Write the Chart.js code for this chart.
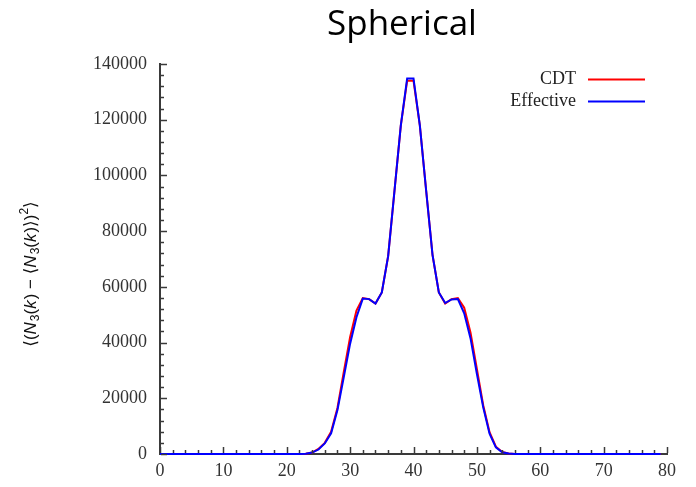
<!DOCTYPE html>
<html>
<head>
<meta charset="utf-8">
<script src="https://cdn.jsdelivr.net/npm/chart.js@4.4.1/dist/chart.umd.min.js"></script>
<style>
  html, body { margin: 0; padding: 0; background: #fff; }
</style>
</head>
<body>
<canvas id="c" width="696" height="487"></canvas>
<script>
// ============ data ============
const kValues = [
  0, 1, 2, 3, 4, 5, 6, 7, 8, 9, 10, 11, 12, 13, 14, 15, 16, 17, 18, 19,
  20, 21, 22, 23, 24, 25, 26, 27, 28, 29, 30, 31, 32, 33, 34, 35, 36, 37, 38, 39,
  40, 41, 42, 43, 44, 45, 46, 47, 48, 49, 50, 51, 52, 53, 54, 55, 56, 57, 58, 59,
  60, 61, 62, 63, 64, 65, 66, 67, 68, 69, 70, 71, 72, 73, 74, 75, 76, 77, 78, 79
];
const cdtValues = [
  0, 0, 0, 0, 0, 0, 0, 0, 0, 0, 0, 0, 0, 0, 0, 0, 0, 0, 0, 0,
  0, 0, 0, 100, 500, 1800, 4000, 8000, 16500, 29500, 42000, 51500, 56000, 55600, 54000, 58000, 71000, 94500, 118000, 134000,
  134000, 118000, 94500, 71500, 58000, 54000, 55600, 56000, 52500, 43500, 30500, 17500, 7800, 2600, 700, 150, 0, 0, 0, 0,
  0, 0, 0, 0, 0, 0, 0, 0, 0, 0, 0, 0, 0, 0, 0, 0, 0, 0, 0, 0
];
const effectiveValues = [
  0, 0, 0, 0, 0, 0, 0, 0, 0, 0, 0, 0, 0, 0, 0, 0, 0, 0, 0, 0,
  0, 0, 0, 100, 500, 1600, 3800, 7400, 15800, 27600, 39600, 49100, 55800, 55600, 54000, 58000, 71000, 94500, 118000, 134800,
  134800, 118000, 94500, 71500, 58000, 54200, 55500, 55600, 50500, 41500, 28800, 16800, 7300, 2400, 600, 150, 0, 0, 0, 0,
  0, 0, 0, 0, 0, 0, 0, 0, 0, 0, 0, 0, 0, 0, 0, 0, 0, 0, 0, 0
];
const seriesLabels = ['CDT', 'Effective'];
const seriesColors = ['#ff0000', '#0000ff'];
const xTicks = [0, 10, 20, 30, 40, 50, 60, 70, 80];
const yTicks = [0, 20000, 40000, 60000, 80000, 100000, 120000, 140000];
const X_MINOR = 2, Y_MINOR = 4000;

const AXIS_COLOR = '#3a3a3a';
const SERIF = '"Liberation Serif", "DejaVu Serif", serif';
const SANS = '"Liberation Sans", "DejaVu Sans", sans-serif';

// ============ 装饰：刻度、标题、轴标签、图例 ============
const decorPlugin = {
  id: 'decor',
  afterDraw(chart) {
    const ctx = chart.ctx;
    const xs = chart.scales.x, ys = chart.scales.y;
    const a = chart.chartArea;
    ctx.save();

    // inward ticks (gnuplot style)
    ctx.strokeStyle = AXIS_COLOR;
    ctx.lineWidth = 1.5;
    const xMax = xTicks[xTicks.length - 1], yMax = yTicks[yTicks.length - 1];
    for (let v = xTicks[0]; v <= xMax; v += X_MINOR) {
      const px = Math.round(xs.getPixelForValue(v)) + 0.5;
      const len = xTicks.includes(v) ? 6 : 3;
      ctx.beginPath(); ctx.moveTo(px, a.bottom - 1); ctx.lineTo(px, a.bottom - 1 - len); ctx.stroke();
    }
    for (let v = yTicks[0]; v <= yMax; v += Y_MINOR) {
      const py = Math.round(ys.getPixelForValue(v)) + 0.5;
      const len = yTicks.includes(v) ? 6 : 3;
      ctx.beginPath(); ctx.moveTo(a.left + 1, py); ctx.lineTo(a.left + 1 + len, py); ctx.stroke();
    }

    // title
    ctx.fillStyle = '#000';
    ctx.font = '35px "Open Sans", "Noto Sans", sans-serif';
    ctx.textAlign = 'center';
    ctx.textBaseline = 'alphabetic';
    ctx.fillText('Spherical', 402, 35);

    // y label, rotated: [text, style] with style n / i / sub / sup
    const segs = [
      ['⟨(', 'n'], ['N', 'i'], ['3', 'sub'], ['(', 'n'], ['k', 'i'], [') − ⟨', 'n'],
      ['N', 'i'], ['3', 'sub'], ['(', 'n'], ['k', 'i'], [')⟩)', 'n'], ['2', 'sup'], ['⟩', 'n']
    ];
    const fontFor = st => st === 'i' ? 'italic 17px ' + SANS : (st === 'n' ? '17px ' + SANS : '12px ' + SANS);
    const offFor = st => st === 'sub' ? 5 : (st === 'sup' ? -6 : 0);
    let total = 0;
    segs.forEach(s => { ctx.font = fontFor(s[1]); total += ctx.measureText(s[0]).width + (s[1] === 'i' ? 1 : 0); });
    ctx.translate(31, 274);
    ctx.rotate(-Math.PI / 2);
    ctx.textAlign = 'left';
    ctx.textBaseline = 'middle';
    ctx.fillStyle = '#111';
    let x0 = -total / 2;
    segs.forEach(s => {
      ctx.font = fontFor(s[1]);
      ctx.fillText(s[0], x0, offFor(s[1]));
      x0 += ctx.measureText(s[0]).width + (s[1] === 'i' ? 1 : 0);
    });
    ctx.setTransform(1, 0, 0, 1, 0, 0);

    // legend: text right, sample line after it
    ctx.font = '18px ' + SERIF;
    ctx.textAlign = 'right';
    ctx.textBaseline = 'middle';
    ctx.lineWidth = 2;
    chart.data.datasets.forEach((ds, i) => {
      const y = 79 + i * 22;
      ctx.fillStyle = '#222';
      ctx.fillText(ds.label, 576, y);
      ctx.strokeStyle = ds.borderColor;
      ctx.beginPath(); ctx.moveTo(588, y + 0.5); ctx.lineTo(645, y + 0.5); ctx.stroke();
    });
    ctx.restore();
  }
};

const toPoints = vals => kValues.map((k, i) => ({ x: k, y: vals[i] }));

new Chart(document.getElementById('c').getContext('2d'), {
  type: 'line',
  data: {
    datasets: [
      { label: seriesLabels[0], data: toPoints(cdtValues), borderColor: seriesColors[0], borderWidth: 2, pointRadius: 0, tension: 0, fill: false, order: 2, clip: 4 },
      { label: seriesLabels[1], data: toPoints(effectiveValues), borderColor: seriesColors[1], borderWidth: 2, pointRadius: 0, tension: 0, fill: false, order: 1, clip: 4 }
    ]
  },
  options: {
    responsive: false,
    devicePixelRatio: 1,
    animation: false,
    layout: { padding: { top: 64, right: 29, left: 0, bottom: 0 } },
    plugins: { legend: { display: false }, title: { display: false }, tooltip: { enabled: false } },
    scales: {
      x: {
        type: 'linear',
        z: -1,
        min: xTicks[0], max: xTicks[xTicks.length - 1],
        afterBuildTicks: s => { s.ticks = xTicks.map(v => ({ value: v })); },
        afterFit: s => { s.height = 33; },
        grid: { drawOnChartArea: false, drawTicks: false },
        border: { display: true, color: AXIS_COLOR, width: 2 },
        ticks: { padding: 6, color: '#333', font: { family: SERIF, size: 18 }, maxRotation: 0 }
      },
      y: {
        z: -1,
        min: yTicks[0], max: yTicks[yTicks.length - 1],
        afterBuildTicks: s => { s.ticks = yTicks.map(v => ({ value: v })); },
        afterFit: s => { s.width = 160; },
        grid: { drawOnChartArea: false, drawTicks: false },
        border: { display: true, color: AXIS_COLOR, width: 2 },
        ticks: { padding: 13, color: '#333', font: { family: SERIF, size: 18 }, callback: v => String(v) }
      }
    }
  },
  plugins: [decorPlugin]
});
</script>
</body>
</html>
